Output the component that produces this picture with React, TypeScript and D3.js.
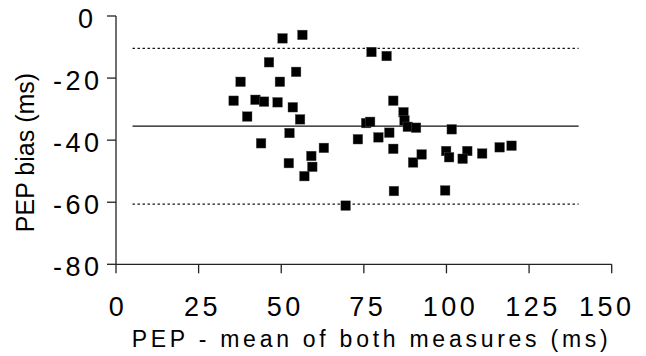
import React from "react";
import * as d3 from "d3";

const meanX: number[] = [
  50.4, 56.4, 77.3, 81.9, 46.3, 54.5, 37.7, 49.6, 35.6, 42.2, 44.8, 48.9, 53.5, 83.9, 39.7,
  55.7, 87.0, 87.3, 75.7, 76.9, 88.3, 90.8, 52.5, 82.7, 73.2, 79.4, 43.9, 83.9, 62.9, 59.1,
  52.3, 59.4, 57.0, 89.9, 92.5, 101.6, 99.9, 106.3, 100.8, 104.9, 110.8, 116.1, 119.7, 84.1,
  99.6, 69.5,
];
const biasY: number[] = [
  -7.2, -6.1, -11.6, -12.9, -14.9, -18.0, -21.2, -21.2, -27.3, -27.0, -27.6, -27.8, -29.4, -27.3, -32.4,
  -33.3, -31.0, -33.7, -34.5, -34.1, -35.7, -36.0, -37.7, -37.6, -39.7, -39.1, -41.0, -42.8, -42.5, -45.1,
  -47.4, -48.6, -51.6, -47.2, -44.6, -36.5, -43.5, -43.5, -45.5, -46.0, -44.3, -42.3, -41.8, -56.4,
  -56.2, -61.1,
];
const meanBias = -35.5;
const upperLimit = -10.4;
const lowerLimit = -60.6;
const limitXRange: [number, number] = [5, 140];
const xTicks: number[] = [0, 25, 50, 75, 100, 125, 150];
const yTicks: number[] = [0, -20, -40, -60, -80];
const xTitle = "PEP - mean of both measures (ms)";
const yTitle = "PEP bias (ms)";

const W = 646;
const H = 356;

export default function App() {
  const x = d3.scaleLinear().domain([0, 150]).range([116, 611.7]);
  const y = d3.scaleLinear().domain([-80, 0]).range([264.3, 16]);
  const font = "Liberation Sans, Arial, sans-serif";
  const axisColor = "#222";
  const ms = 9.6;
  const points = meanX.map((v, i) => ({ x: v, y: biasY[i] }));

  return (
    <svg
      width={W}
      height={H}
      style={{ position: "absolute", left: 0, top: 0, background: "#fff" }}
      fontFamily={font}
    >
      <rect x={0} y={0} width={W} height={H} fill="#fff" />
      {/* reference lines */}
      <line x1={x(limitXRange[0])} x2={x(limitXRange[1])} y1={y(meanBias)} y2={y(meanBias)} stroke="#111" strokeWidth={1.3} />
      <line x1={x(limitXRange[0])} x2={x(limitXRange[1])} y1={y(upperLimit)} y2={y(upperLimit)} stroke="#111" strokeWidth={1.2} strokeDasharray="2.4,2.6" />
      <line x1={x(limitXRange[0])} x2={x(limitXRange[1])} y1={y(lowerLimit)} y2={y(lowerLimit)} stroke="#111" strokeWidth={1.2} strokeDasharray="2.4,2.6" />

      {/* axes */}
      <line x1={x(0)} x2={x(0)} y1={y(0)} y2={y(-80)} stroke={axisColor} strokeWidth={1.3} />
      <line x1={x(0)} x2={x(150)} y1={y(-80)} y2={y(-80)} stroke={axisColor} strokeWidth={1.3} />
      {yTicks.map((t) => (
        <g key={"y" + t}>
          <line x1={x(0) - 9} x2={x(0)} y1={y(t)} y2={y(t)} stroke={axisColor} strokeWidth={1.3} />
          <text
            x={t === 0 ? 96.5 : 102.5}
            y={y(t) + 12}
            textAnchor="end"
            fontSize={27}
            letterSpacing={3.5}
            fill="#000"
          >
            {t}
          </text>
        </g>
      ))}
      {xTicks.map((t) => (
        <g key={"x" + t}>
          <line x1={x(t)} x2={x(t)} y1={y(-80)} y2={y(-80) + 9} stroke={axisColor} strokeWidth={1.3} />
          <text
            x={x(t) + (t === 150 ? -5 : t === 0 ? 2 : 4)}
            y={316}
            textAnchor="middle"
            fontSize={27}
            letterSpacing={3.5}
            fill="#000"
          >
            {t}
          </text>
        </g>
      ))}

      {/* titles */}
      <text
        x={131.7}
        y={346.5}
        fontSize={23}
        textLength={476}
        lengthAdjust="spacing"
        fill="#000"
      >
        {xTitle}
      </text>
      <text
        transform={`translate(33.5,152.5) rotate(-90)`}
        textAnchor="middle"
        fontSize={25}
        fill="#000"
      >
        {yTitle}
      </text>

      {/* points */}
      {points.map((p, i) => (
        <rect
          key={i}
          x={x(p.x) - ms / 2}
          y={y(p.y) - ms / 2}
          width={ms}
          height={ms}
          fill="#000"
          stroke="#555"
          strokeWidth={0.4}
        />
      ))}
    </svg>
  );
}
